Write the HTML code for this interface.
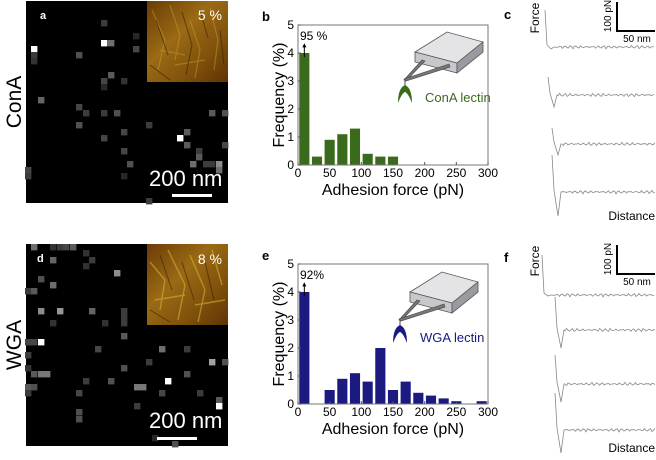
<!DOCTYPE html>
<html><head><meta charset="utf-8"><style>
html,body{margin:0;padding:0;background:#fff;}
svg{display:block;font-family:"Liberation Sans",Arial,sans-serif;}
</style></head><body>
<svg id="fig" width="656" height="460" viewBox="0 0 656 460">
<defs>
<linearGradient id="afm" x1="0" y1="0" x2="1" y2="1">
<stop offset="0" stop-color="#6a3c06"/><stop offset="0.4" stop-color="#9a6a14"/><stop offset="0.7" stop-color="#80520c"/><stop offset="1" stop-color="#5e3404"/>
</linearGradient>
</defs>
<g id="imgA">
<rect x="26" y="1" width="202" height="202" fill="#000"/>
</g>
<g id="imgD">
<rect x="26" y="244" width="202" height="202" fill="#000"/>
</g>
<g>
<rect x="147" y="1" width="81" height="81" fill="url(#afm)"/>
<g stroke="#c89830" stroke-width="1.2" opacity="0.5" fill="none">
<path d="M152 10 L165 40 L158 70 M170 5 L180 35 L175 60 M190 20 L200 50 L195 78 M210 8 L218 40 L214 70 M160 50 L185 55 M175 65 L205 60"/>
</g>
<g stroke="#3a2004" stroke-width="1" opacity="0.6" fill="none">
<path d="M156 20 L168 55 M182 12 L192 45 L186 75 M200 10 L208 38 M220 30 L224 65 M150 65 L170 80"/>
</g>
<text x="222" y="20" fill="#fff" font-size="14" text-anchor="end">5 %</text>
</g>
<g>
<rect x="147" y="244" width="81" height="81" fill="url(#afm)"/>
<g stroke="#d8b838" stroke-width="1.4" opacity="0.55" fill="none">
<path d="M150 262 L165 280 L160 310 M168 250 L185 285 L178 320 M190 255 L205 290 L198 322 M212 250 L222 285 M155 300 L185 295 M195 305 L225 300"/>
</g>
<g stroke="#3a2004" stroke-width="1" opacity="0.6" fill="none">
<path d="M160 255 L172 290 M182 262 L194 300 M205 262 L214 300 M150 310 L170 322"/>
</g>
<text x="222" y="264" fill="#fff" font-size="14" text-anchor="end">8 %</text>
</g>
<text x="40" y="19" fill="#fff" font-size="11" font-weight="bold">a</text>
<text x="37" y="262" fill="#fff" font-size="11" font-weight="bold">d</text>
<text x="149" y="186" fill="#fff" font-size="22">200 nm</text>
<rect x="172" y="194" width="40" height="3" fill="#fff"/>
<text x="149" y="428" fill="#fff" font-size="22">200 nm</text>
<rect x="157" y="437" width="40" height="3" fill="#fff"/>
<text transform="translate(21,102) rotate(-90)" font-size="21" text-anchor="middle">ConA</text>
<text transform="translate(21,345) rotate(-90)" font-size="21" text-anchor="middle">WGA</text>

<g id="histB"></g>
<g id="histE"></g>

<g id="traceC"></g>
<g id="traceF"></g>
</svg>
<script>
// ---- histogram data ----
const binStarts = [0,20,40,60,80,100,120,140,160,180,200,220,240,260,280];
const conaFreq = [4,0.3,0.9,1.1,1.3,0.4,0.3,0.3,0,0,0,0,0,0,0];
const wgaFreq  = [4,0,0.5,0.9,1.1,0.8,2.0,0.5,0.8,0.4,0.3,0.2,0.1,0,0.1];
const xTicks = [0,50,100,150,200,250,300];
const yTicks = [0,1,2,3,4,5];
// ---- adhesion map pixels [x, y, gray] ----
const pixA = [[34,49,255],[104,43,255],[111,43,110],[104,23,60],[136,49,70],[79,55,80],[34,55,60],[34,61,50],[111,75,90],[104,81,70],[124,81,50],[41,100,100],[79,107,70],[86,113,60],[104,113,60],[117,113,80],[79,125,80],[149,125,60],[124,132,70],[104,138,70],[180,138,255],[187,132,90],[187,145,90],[212,113,90],[225,113,80],[225,145,70],[124,151,70],[199,151,60],[199,157,90],[193,164,110],[219,164,140],[212,164,60],[206,164,60],[130,164,80],[28,170,70],[28,176,60],[124,176,40],[219,170,110],[149,201,60],[136,36,40],[104,87,40]];
const pixD = [[34,247,110],[53,247,50],[60,247,60],[66,247,70],[73,247,90],[86,253,50],[53,260,100],[92,260,60],[86,266,50],[117,273,140],[41,279,80],[53,285,110],[28,291,60],[34,291,90],[41,311,140],[60,311,150],[92,311,100],[124,311,60],[124,317,60],[53,323,50],[105,323,50],[124,323,60],[124,336,90],[41,342,255],[28,342,70],[34,342,70],[98,349,70],[162,349,110],[187,349,60],[28,355,60],[149,362,60],[212,362,160],[225,362,80],[124,368,80],[28,368,50],[34,374,90],[41,374,120],[47,374,120],[187,374,80],[86,381,60],[111,381,80],[168,381,255],[28,387,90],[34,387,80],[137,387,120],[143,387,120],[79,393,70],[162,393,70],[200,393,60],[28,393,60],[219,400,90],[219,406,255],[137,406,60],[79,412,80],[79,419,80],[155,438,40],[175,444,80]];

function mk(tag, attrs, parent){
  const el=document.createElementNS('http://www.w3.org/2000/svg',tag);
  for(const k in attrs) el.setAttribute(k,attrs[k]);
  parent.appendChild(el); return el;
}
function drawPix(gid, pix){
  const g=document.getElementById(gid);
  pix.forEach(p=>{
    const r=mk('rect',{x:p[0]-3,y:p[1]-3,width:6.4,height:6.4,fill:`rgb(${p[2]},${p[2]},${p[2]})`},g);
    
    
  });
}
drawPix('imgA',pixA); drawPix('imgD',pixD);

function drawHist(gid, vals, color, L, T, R, B, letter, pctText, lectinText, oy){
  const g=document.getElementById(gid);
  const xs=v=>L+(v/300)*(R-L);
  const ys=v=>B-(v/5)*(B-T);
  binStarts.forEach((b,i)=>{
    if(vals[i]<=0) return;
    const r=mk('rect',{x:xs(b+2),y:ys(vals[i]),width:xs(b+18)-xs(b+2),height:B-ys(vals[i]),fill:color},g);
    
    
  });
  const box=mk('rect',{x:L,y:T,width:R-L,height:B-T,fill:'none',stroke:'#777','stroke-width':1},g);
  
  
  xTicks.forEach(t=>{
    mk('line',{x1:xs(t),x2:xs(t),y1:B,y2:B-3,stroke:'#555'},g);
    const tx=mk('text',{x:xs(t),y:B+12,'font-size':12,'text-anchor':'middle'},g);
    tx.textContent=t;
    
    
  });
  yTicks.forEach(t=>{
    mk('line',{x1:L,x2:L+3,y1:ys(t),y2:ys(t),stroke:'#555'},g);
    const tx=mk('text',{x:L-4,y:ys(t)+4,'font-size':12,'text-anchor':'end'},g);
    tx.textContent=t;
    
    
  });
  const xl=mk('text',{x:(L+R)/2,y:B+30,'font-size':16,'text-anchor':'middle'},g);
  xl.textContent='Adhesion force (pN)';
  
  
  const yl=mk('text',{transform:`translate(${L-14},${(T+B)/2}) rotate(-90)`,'font-size':16,'text-anchor':'middle'},g);
  yl.textContent='Frequency (%)';
  
  
  const pl=mk('text',{x:L-36,y:T-4,'font-size':13,'font-weight':'bold'},g);
  pl.textContent=letter;
  
  
  const pt=mk('text',{x:xs(0)+2,y:ys(4.5)+1,'font-size':12},g);
  pt.textContent=pctText;
  
  
  const cx=xs(10);
  mk('line',{x1:cx,x2:cx,y1:ys(3.85),y2:ys(4.3),stroke:'#000','stroke-width':1},g);
  mk('path',{d:`M${cx-2} ${ys(4.2)} L${cx} ${ys(4.35)} L${cx+2} ${ys(4.2)} Z`,fill:'#000'},g);
  const c=mk('g',{transform:`translate(${oy[0]},${oy[1]})`},g);
  
  
  mk('path',{d:'M415 52 L447 32 L483 42 L457 63 Z',fill:'#e4e4e6',stroke:'#555','stroke-width':0.8},c);
  mk('path',{d:'M415 52 L457 63 L457 73 L415 62 Z',fill:'#c8c8cc',stroke:'#555','stroke-width':0.8},c);
  mk('path',{d:'M457 63 L483 42 L483 52 L457 73 Z',fill:'#9a9aa0',stroke:'#555','stroke-width':0.8},c);
  mk('path',{d:'M422 60 L404 80 L407 80 L425 61 Z',fill:'#777',stroke:'#444','stroke-width':0.6},c);
  mk('path',{d:'M449 64 L404 79 L406 81 L450 67 Z',fill:'#777',stroke:'#444','stroke-width':0.6},c);
  mk('line',{x1:405,y1:80,x2:405,y2:86,stroke:'#444'},c);
  mk('path',{d:'M398 103 Q398 88 405 85 Q412 88 412 103 Q408 93 405 92 Q402 93 398 103 Z',fill:color},c);
  const lt=mk('text',{x:425,y:102,'font-size':13,fill:color},c);
  lt.textContent=lectinText;
  
  
}
drawHist('histB',conaFreq,'#3a6b1c',298,25,488,165,'b','95 %','ConA lectin',[0,0]);
drawHist('histE',wgaFreq,'#1a1a80',298,264,488,404,'e','92%','WGA lectin',[-5,240]);

// ---- force curve traces: [startY, baseline, dipY, dipX] ----
const tracesC=[[10,47,49,551],[77,95,107,554],[128,144,155,558],[155,192,216,558]];
const tracesF=[[255,295,296,548],[297,330,348,561],[355,384,402,561],[393,430,453,561]];
function noise(i,k){return 0.9*Math.sin(i*1.7+k*3.1)+0.6*Math.sin(i*4.3+k*1.3)+0.4*Math.sin(i*9.1+k*2.2);}
function drawTraces(gid, tr, oy, letter){
  const g=document.getElementById(gid);
  tr.forEach((t,k)=>{
    const x0=t[3]-6;
    let d=`M${x0} ${t[0]} L${x0+2} ${t[1]-2} L${t[3]} ${t[2]} L${t[3]+3} ${t[1]}`;
    for(let x=t[3]+4,i=0;x<=655;x+=1.5,i++) d+=` L${x} ${(t[1]+noise(i,k)).toFixed(1)}`;
    const p=mk('path',{d:d,fill:'none',stroke:'#888','stroke-width':0.8},g);
    
    
  });
  const l=mk('text',{x:504,y:oy+19,'font-size':13,'font-weight':'bold'},g);
  l.textContent=letter;
  
  
  const f=mk('text',{transform:`translate(539,${oy+18}) rotate(-90)`,'font-size':12,'text-anchor':'middle'},g);
  f.textContent='Force';
  
  
  mk('path',{d:`M617 ${oy+2} L617 ${oy+31} L655 ${oy+31}`,fill:'none',stroke:'#000','stroke-width':2},g);
  const s1=mk('text',{transform:`translate(611,${oy+16}) rotate(-90)`,'font-size':10,'text-anchor':'middle'},g);
  s1.textContent='100 pN';
  
  
  const s2=mk('text',{x:637,y:oy+42,'font-size':10,'text-anchor':'middle'},g);
  s2.textContent='50 nm';
  
  
}
drawTraces('traceC',tracesC,0,'c');
drawTraces('traceF',tracesF,243,'f');
const dc=mk('text',{x:655,y:220,'font-size':12,'text-anchor':'end'},document.getElementById('traceC'));
dc.textContent='Distance';


const df=mk('text',{x:655,y:452,'font-size':12,'text-anchor':'end'},document.getElementById('traceF'));
df.textContent='Distance';


</script>
</body></html>
